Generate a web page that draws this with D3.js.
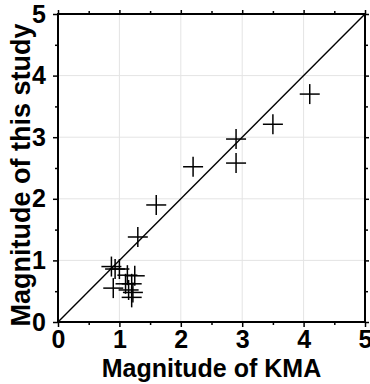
<!DOCTYPE html>
<html>
<head>
<meta charset="utf-8">
<script src="https://cdn.jsdelivr.net/npm/d3@7"></script>
<style>
  html, body { margin: 0; padding: 0; background: #fff; }
  svg { display: block; }
  text { font-family: "Liberation Sans", Arial, sans-serif; font-weight: bold; fill: #000; }
</style>
</head>
<body>
<div id="wrapper"></div>
<script>
// magnitude pairs
const kmaMag   = [0.87, 0.93, 1.00, 0.90, 1.13, 1.25, 1.20, 1.10, 1.15, 1.22, 1.20, 1.30, 1.60, 2.20, 2.90, 2.90, 3.50, 4.10];
const studyMag = [0.90, 0.86, 0.86, 0.55, 0.76, 0.75, 0.62, 0.62, 0.52, 0.48, 0.40, 1.38, 1.90, 2.52, 2.97, 2.58, 3.21, 3.70];
const majorTicks = [0, 1, 2, 3, 4, 5];
const minorTicks = [0.5, 1.5, 2.5, 3.5, 4.5];
const gridTicks = [1, 2, 3, 4];
const xTitle = 'Magnitude of KMA';
const yTitle = 'Magnitude of this study';

function drawScatter() {
    const dataset = kmaMag.map((d, i) => ({ kma: d, study: studyMag[i] }));
    const xAccessor = d => d.kma;
    const yAccessor = d => d.study;

    let dimensions = {
        width: 370,
        height: 384,
        margin: { top: 14, right: 5, bottom: 62, left: 58 }
    };
    dimensions.boundedWidth = dimensions.width - dimensions.margin.left - dimensions.margin.right;
    dimensions.boundedHeight = dimensions.height - dimensions.margin.top - dimensions.margin.bottom;

    const wrapper = d3.select('#wrapper')
        .append('svg')
        .attr('width', dimensions.width)
        .attr('height', dimensions.height);

    const bounds = wrapper.append('g')
        .attr('transform', `translate(${dimensions.margin.left},${dimensions.margin.top})`);

    const xScale = d3.scaleLinear().domain([0, 5]).range([0, dimensions.boundedWidth]);
    const yScale = d3.scaleLinear().domain([0, 5]).range([dimensions.boundedHeight, 0]);

    // grid
    bounds.append('g').selectAll('line').data(gridTicks).join('line')
        .attr('x1', d => xScale(d)).attr('x2', d => xScale(d))
        .attr('y1', 0).attr('y2', dimensions.boundedHeight)
        .attr('stroke', '#e4e4e4').attr('stroke-width', 1);
    bounds.append('g').selectAll('line').data(gridTicks).join('line')
        .attr('y1', d => yScale(d)).attr('y2', d => yScale(d))
        .attr('x1', 0).attr('x2', dimensions.boundedWidth)
        .attr('stroke', '#e4e4e4').attr('stroke-width', 1);

    // 1:1 line
    bounds.append('line')
        .attr('x1', xScale(0)).attr('y1', yScale(0))
        .attr('x2', xScale(5)).attr('y2', yScale(5))
        .attr('stroke', '#000').attr('stroke-width', 1.4);

    // plus markers
    const arm = 10;
    const marks = bounds.append('g').selectAll('g').data(dataset).join('g')
        .attr('transform', d => `translate(${xScale(xAccessor(d))},${yScale(yAccessor(d))})`);
    marks.append('line').attr('x1', -arm).attr('x2', arm).attr('y1', 0).attr('y2', 0)
        .attr('stroke', '#000').attr('stroke-width', 1.5);
    marks.append('line').attr('y1', -arm).attr('y2', arm).attr('x1', 0).attr('x2', 0)
        .attr('stroke', '#000').attr('stroke-width', 1.5);

    // axes: major + minor ticks on all four sides
    const styleAxis = g => {
        g.select('.domain').remove();
        g.selectAll('.tick line').attr('stroke', '#000').attr('stroke-width', 1.5);
    };
    const addAxis = (axisFn, scale, ticks, size, labels, transform) => {
        const ax = axisFn(scale).tickValues(ticks).tickSizeOuter(0).tickSizeInner(size)
            .tickPadding(6).tickFormat(labels ? d3.format('d') : '');
        const g = bounds.append('g').attr('transform', transform).call(ax).call(styleAxis);
        g.selectAll('text').style('font-size', '25px').style('font-family', '"Liberation Sans", Arial, sans-serif')
            .style('font-weight', 'bold').attr('fill', '#000');
        return g;
    };
    const bottom = addAxis(d3.axisBottom, xScale, majorTicks, 5, true, `translate(0,${dimensions.boundedHeight})`);
    bottom.selectAll('text').attr('dy', '0.78em').attr('y', 6);
    addAxis(d3.axisBottom, xScale, minorTicks, 3, false, `translate(0,${dimensions.boundedHeight})`);
    const left = addAxis(d3.axisLeft, yScale, majorTicks, 5, true, 'translate(0,0)');
    left.selectAll('text').attr('x', -12);
    addAxis(d3.axisLeft, yScale, minorTicks, 3, false, 'translate(0,0)');
    addAxis(d3.axisTop, xScale, majorTicks, 4, false, 'translate(0,0)');
    addAxis(d3.axisTop, xScale, minorTicks, 3, false, 'translate(0,0)');
    addAxis(d3.axisRight, yScale, majorTicks, 4, false, `translate(${dimensions.boundedWidth},0)`);
    addAxis(d3.axisRight, yScale, minorTicks, 3, false, `translate(${dimensions.boundedWidth},0)`);

    // frame
    bounds.append('rect')
        .attr('x', 0).attr('y', 0)
        .attr('width', dimensions.boundedWidth).attr('height', dimensions.boundedHeight)
        .attr('fill', 'none').attr('stroke', '#000').attr('stroke-width', 2);

    // titles
    wrapper.append('text')
        .attr('x', dimensions.margin.left + dimensions.boundedWidth / 2)
        .attr('y', 377)
        .attr('text-anchor', 'middle')
        .style('font-size', '25px')
        .text(xTitle);
    wrapper.append('text')
        .attr('transform', `translate(30,${175}) rotate(-90)`)
        .attr('text-anchor', 'middle')
        .style('font-size', '27px')
        .text(yTitle);
}

drawScatter();
</script>
</body>
</html>
